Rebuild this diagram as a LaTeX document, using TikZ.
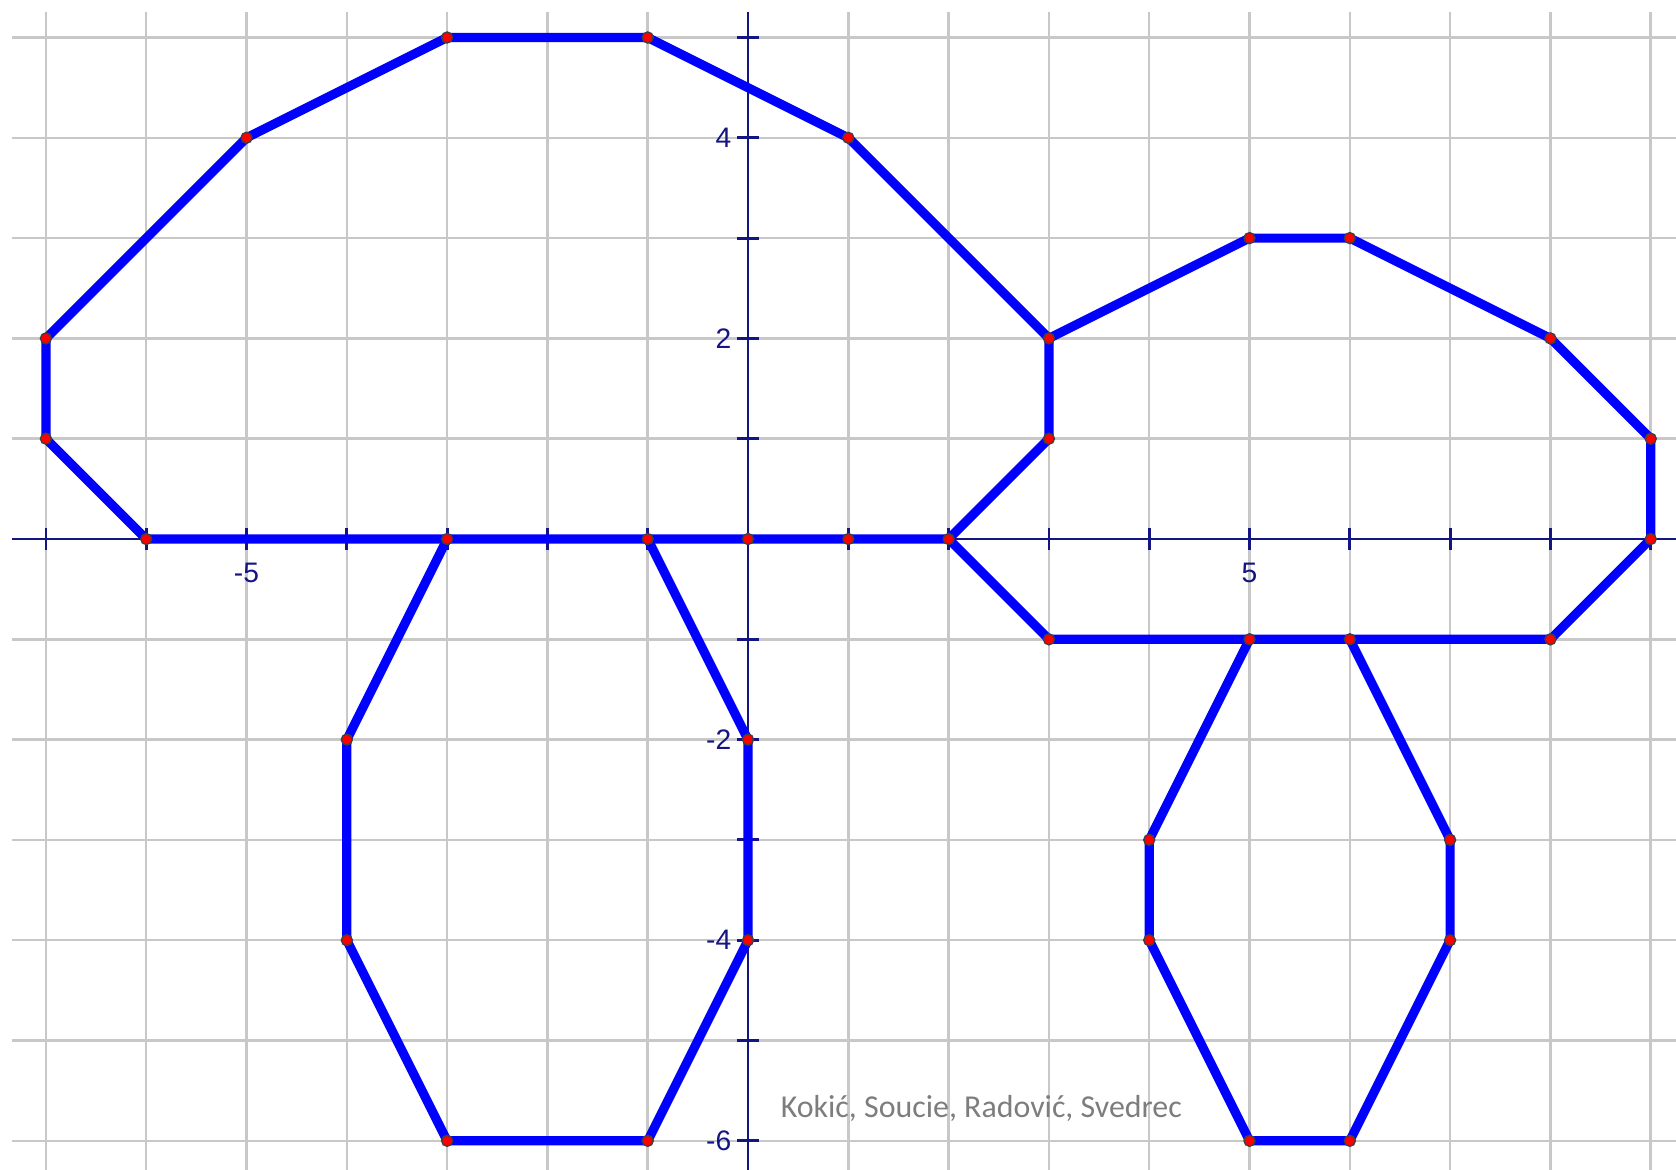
\documentclass[tikz,border=0pt]{standalone}
\usepackage{fontspec}
\newfontfamily\labelfont{Liberation Sans}
\newfontfamily\signfont{Carlito}
\usepackage{tikz}
\definecolor{gridgray}{RGB}{200,200,200}
\definecolor{axisblue}{RGB}{20,20,130}
\definecolor{signgray}{RGB}{125,125,125}
\tikzset{
  gridline/.style={gridgray, line width=0.7pt},
  axisline/.style={axisblue, line width=0.8pt},
  outline/.style={blue, line width=2.6pt, line join=round, line cap=round},
  vertex/.style={draw=black!75, fill=red, line width=0.4pt},
  axislabel/.style={text=axisblue, font=\labelfont\fontsize{8}{9}\selectfont, inner sep=0pt},
}

\begin{document}
\begin{tikzpicture}[scale=1]
\useasboundingbox (-7.458,-6.291) rectangle (9.252,5.374);

% grid
\foreach \x in {-7,...,9} \draw[gridline] (\x,5.254) -- (\x,-6.291);
\foreach \y in {-6,...,5} \draw[gridline] (-7.338,\y) -- (9.252,\y);

% axes
\draw[axisline] (-7.338,0) -- (9.252,0);
\draw[axisline] (0,5.254) -- (0,-6.291);
\foreach \x in {-7,...,9} \draw[axisline] (\x,-0.11) -- (\x,0.11);
\foreach \y in {-6,...,5} \draw[axisline] (-0.11,\y) -- (0.11,\y);
\foreach \x in {-5,5} \node[axislabel] (xlab\x) at (\x,-0.34) {\x};
\foreach \y in {4,2,-2,-4,-6} \node[axislabel, anchor=east] (ylab\y) at (-0.16,\y) {\y};

% big mushroom
\begin{scope}
\draw[outline] (-6,0) -- (-7,1) -- (-7,2) -- (-5,4) -- (-3,5) -- (-1,5) -- (1,4) -- (3,2) -- (3,1) -- (2,0) -- cycle;
\draw[outline] (-3,0) -- (-4,-2) -- (-4,-4) -- (-3,-6) -- (-1,-6) -- (0,-4) -- (0,-2) -- (-1,0);
\end{scope}

% small mushroom
\begin{scope}
\draw[outline] (3,2) -- (5,3) -- (6,3) -- (8,2) -- (9,1) -- (9,0) -- (8,-1) -- (3,-1) -- (2,0);
\draw[outline] (5,-1) -- (4,-3) -- (4,-4) -- (5,-6) -- (6,-6) -- (7,-4) -- (7,-3) -- (6,-1);
\end{scope}

% vertices
\foreach \p in {(-7,1),(-7,2),(-5,4),(-3,5),(-1,5),(1,4),(3,2),(3,1),(2,0),(1,0),(0,0),(-1,0),(-3,0),(-6,0),
                (-4,-2),(-4,-4),(-3,-6),(-1,-6),(0,-4),(0,-2),
                (5,3),(6,3),(8,2),(9,1),(9,0),(8,-1),(6,-1),(5,-1),(3,-1),
                (4,-3),(4,-4),(5,-6),(6,-6),(7,-4),(7,-3)}
  \draw[vertex] \p circle [radius = 0.055];

\node[anchor=base west, inner sep=0pt, text=signgray, font=\signfont\fontsize{9.05}{10}\selectfont] (authors) at (0.32,-5.77) {Kokić, Soucie, Radović, Svedrec};
\end{tikzpicture}
\end{document}
